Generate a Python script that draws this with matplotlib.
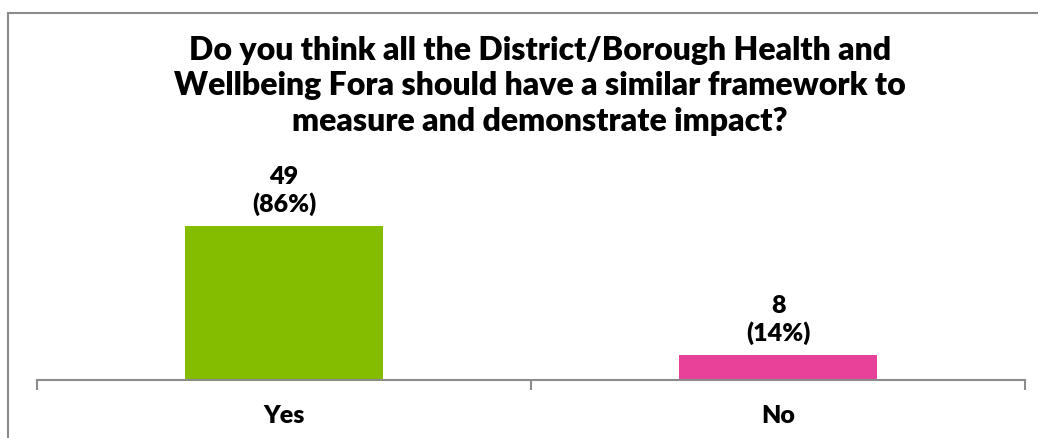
import matplotlib.pyplot as plt
from matplotlib.patches import Rectangle

categories = ["Yes", "No"]
counts = [49, 8]
percents = [86, 14]
colors = ["#84BD00", "#E8419A"]
title = ("Do you think all the District/Borough Health and\n"
         "Wellbeing Fora should have a similar framework to\n"
         "measure and demonstrate impact?")

plt.rcParams['font.family'] = ['Lato', 'DejaVu Sans']

fig = plt.figure(figsize=(10.38, 4.39), dpi=100)
W, H = 1038, 439

# outer chart border (cut off on right and bottom like the source)
fig.patches.append(Rectangle((7.5 / W, -0.1), 1.2, 1 - 13.5 / H + 0.1,
                             transform=fig.transFigure, fill=False,
                             edgecolor="#8c8c8c", linewidth=1.5))

ax = fig.add_axes([37 / W, 58 / H, (1025 - 37) / W, 173 / H])
x = range(len(categories))
ax.bar(x, counts, width=0.4, color=colors)
ax.set_xlim(-0.5, 1.5)
ax.set_ylim(0, 55)

for xi, c, p in zip(x, counts, percents):
    ax.annotate(f"{c}\n({p}%)", (xi, c), xytext=(0, 8), textcoords="offset points",
                ha="center", va="bottom", fontsize=18, fontweight="heavy",
                linespacing=1.2)

ax.set_xticks([-0.5, 0.5, 1.5])
ax.set_xticklabels([])
ax.tick_params(axis="x", length=7, width=1.5, color="#8c8c8c", direction="out")
ax.set_xticks(list(x), minor=True)
ax.set_xticklabels(categories, minor=True, fontsize=18, fontweight="heavy")
ax.tick_params(axis="x", which="minor", length=0, pad=17)
ax.set_yticks([])
for s in ["left", "right", "top"]:
    ax.spines[s].set_visible(False)
ax.spines["bottom"].set_color("#8c8c8c")
ax.spines["bottom"].set_linewidth(1.5)

fig.text(540 / W, 1 - 86 / H, title, ha="center", va="center",
         fontsize=23, fontweight="heavy", linespacing=1.28)

fig.savefig("out.png", dpi=100)
